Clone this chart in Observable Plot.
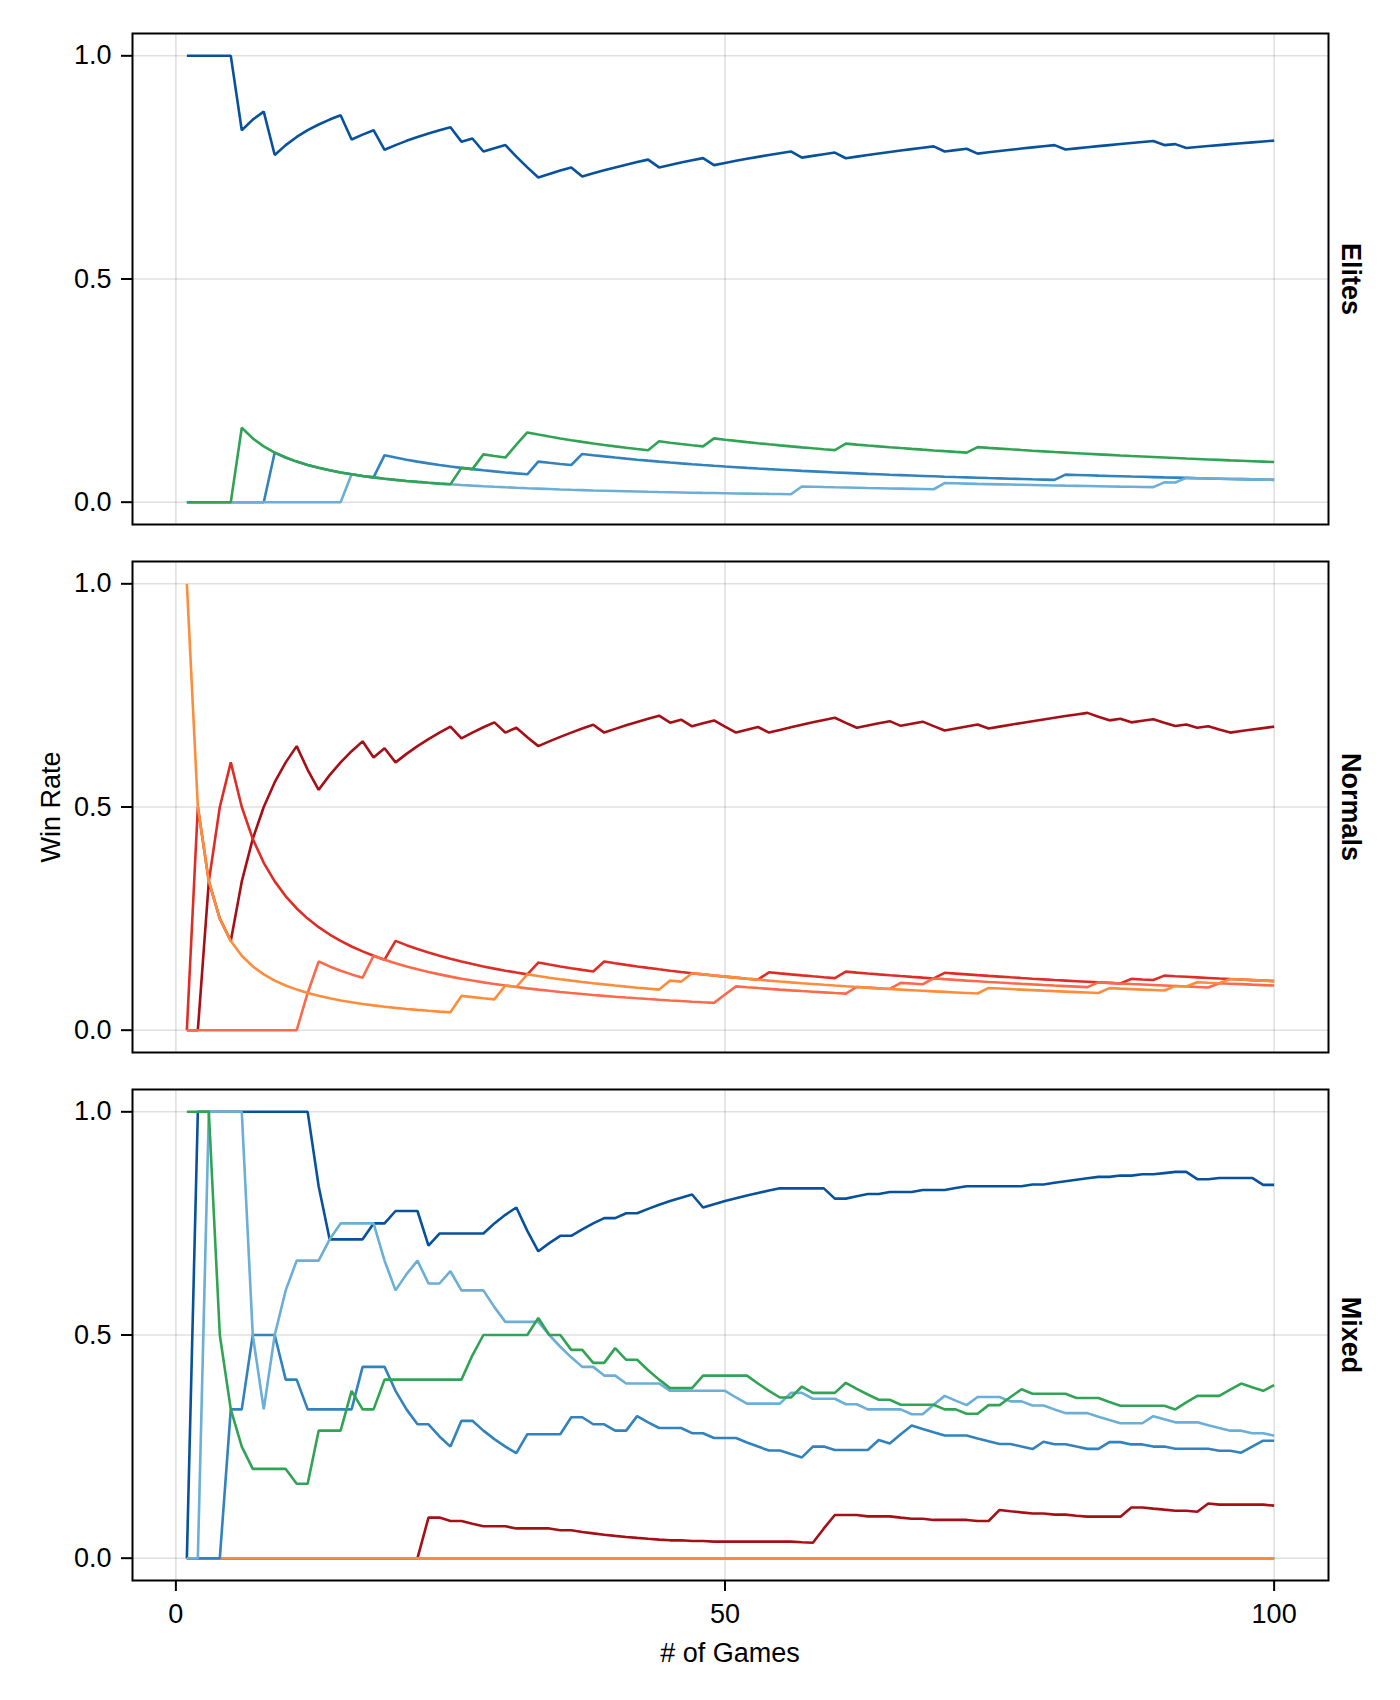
<!DOCTYPE html>
<html>
<head>
<meta charset="utf-8">
<script src="https://cdn.jsdelivr.net/npm/d3@7"></script>
<script src="https://cdn.jsdelivr.net/npm/@observablehq/plot@0.6"></script>
<style>
  html, body { margin: 0; padding: 0; background: #ffffff; }
  #chart svg { display: block; }
</style>
</head>
<body>
<div id="chart"></div>
<script>
// ---------- data ----------
const panels = ["Elites", "Normals", "Mixed"];

// agents, in drawing order, with their colours
const agentKeys   = ["DR", "R", "C", "O", "DB", "MB", "LB", "G"];
const agentColors = ["#a50f15", "#de2d26", "#fb6a4a", "#fd8d3c", "#08519c", "#3182bd", "#6baed6", "#31a354"];

const xTicks = [0, 50, 100];
const yTicks = [0, 0.5, 1];

// Elites: winner of each game (D = DB, M = MB, B = LB, G = G)
const elitesWinners = "DDDDDGDDMD DDDDDBDDMD DDDDDGDGDD GGMDDDMDDD DDDGDDDDGD DDDDDDBDDD GDDDDDDDDB DDGDDDDDDD MDDDDDDDDB DBDDDDDDDD";
const elitesCodes = {DB: "D", MB: "M", LB: "B", G: "G"};

// Normals: winner of each game (D = DR, R = R, C = C, O = O)
const normalsWinners = "ORDRRDDDDD DCCDDDDCDR DDDDDODDDO DORDDDDDRD DDDDODODDC CDDRDDDDDD RCDDDCDDCR DDDODDDDDD DDDCODRDDR ODODCODDDD";
const normalsCodes = {DR: "D", R: "R", C: "C", O: "O"};

// Mixed: per-agent result of each game (W = won, L = lost, . = did not play)
const mixedDB = ".W.W.W.W.. .WLL...W.W ..LW....WW WLLWW.WWW. W.WWWWWLWW WWWWW....L .WW.W..W.. WW.....W.W WWWW.W.W.W W.L.W...L.";
const mixedMB = "..LLW.W..L .L....W..L LL.LLW.LLL LW...W.L.L .WLL..L.L. .LLL.LLW.L ...WLWWLLL ..LLL.LLWL .LL.W.L.L. L...L.LWW.";
const mixedLB = "..W...LLWW W..WW...LL WWL.WL..LL ...LLLL.L. L...L..... LL...W.L.. L.L...L.WW LLW..L.L.L L..LLL..WL L..LLL.L.L";
const mixedG  = "W..LLLL... L.W..WL.W. ......WW.. ..WL.L.L.W L.LLL..W.. ..LLL.WL.. WLLL.L...L .L.W.WWL.. .L..LL.... LWW..WWLLW";
const mixedDR = "..L.L..L.L .L.L.L.L.L .LW.L.LL.. L...L.LLLL LLLLL.L.L. ......LLWW ..L..LL.L. ..L.WLLL.L .LL...W.LL L.LWL....L";
const mixedR  = "..L...L... ..L..L...L ....L..... L...L..... L..L....L. .L....L... L.....L..L ...L....L. ....L...L. .L....L...";
const mixedC  = ".L....L... L.....L..L ...L....L. ..L...L... ..L..L...L ....L..... L...L..... L..L....L. ....L...L. ..L..L....";
const mixedO  = "...L...L.. L...L....L ..L...L... .L....L..L ....L...L. ..L..L.... .L....L... ..L..L...L L....L.... ..L...L..L";
const mixedResults = {DR: mixedDR, R: mixedR, C: mixedC, O: mixedO, DB: mixedDB, MB: mixedMB, LB: mixedLB, G: mixedG};

// ---------- build rows: running win rate (wins / games played) ----------
const clean = s => s.replace(/\s+/g, "");
function addSeries(rows, panel, agent, results) {
  let wins = 0, played = 0;
  Array.from(clean(results)).forEach((ch, i) => {
    if (ch === "W") { wins++; played++; }
    else if (ch === "L") { played++; }
    rows.push({panel, agent, game: i + 1, rate: played ? wins / played : 0});
  });
}
const rows = [];
for (const agent of agentKeys) {
  if (elitesCodes[agent]) {
    const code = elitesCodes[agent];
    addSeries(rows, "Elites", agent, Array.from(clean(elitesWinners), c => c === code ? "W" : "L").join(""));
  }
}
for (const agent of agentKeys) {
  if (normalsCodes[agent]) {
    const code = normalsCodes[agent];
    addSeries(rows, "Normals", agent, Array.from(clean(normalsWinners), c => c === code ? "W" : "L").join(""));
  }
}
for (const agent of agentKeys) addSeries(rows, "Mixed", agent, mixedResults[agent]);

// ---------- chart ----------
const FONT = "'Liberation Sans', Arial, Helvetica, sans-serif";
const chart = Plot.plot({
  width: 1400,
  height: 1700,
  marginLeft: 132,
  marginRight: 72,
  marginTop: 32,
  marginBottom: 118,
  style: {fontFamily: FONT, fontSize: "27px", background: "#ffffff", color: "#000"},
  x: {domain: [-3.95, 104.95], label: null},
  y: {domain: [-0.05, 1.05], label: null},
  fy: {domain: panels, paddingInner: 0.0699, paddingOuter: 0, axis: null, label: null},
  color: {domain: agentKeys, range: agentColors},
  marks: [
    Plot.gridX(xTicks, {stroke: "#000", strokeOpacity: 0.12, strokeWidth: 1.6}),
    Plot.gridY(yTicks, {stroke: "#000", strokeOpacity: 0.12, strokeWidth: 1.6}),
    Plot.lineY(rows, {
      x: "game", y: "rate", z: "agent", stroke: "agent", fy: "panel",
      strokeWidth: 2.6, strokeLinejoin: "miter", strokeLinecap: "butt", curve: "linear"
    }),
    Plot.frame({stroke: "#000", strokeWidth: 2}),
    Plot.axisY(yTicks, {
      tickFormat: d3.format(".1f"), tickSize: 11, tickPadding: 10,
      strokeWidth: 2, label: null, fontSize: 27
    }),
    Plot.axisX(xTicks, {
      tickFormat: d3.format("d"), tickSize: 11, tickPadding: 12,
      strokeWidth: 2, label: null, fontSize: 27
    }),
    Plot.text(panels, {
      fy: d => d, text: d => d, frameAnchor: "right", dx: 22,
      rotate: 90, textAnchor: "middle", lineAnchor: "middle",
      fontWeight: "bold", fontSize: 27, fill: "#000"
    })
  ]
});
document.getElementById("chart").appendChild(chart);

// axis titles
const svg = d3.select(chart);
svg.append("text")
  .attr("x", 730).attr("y", 1662)
  .attr("text-anchor", "middle")
  .attr("font-family", FONT).attr("font-size", 27).attr("fill", "#000")
  .text("# of Games");
svg.append("text")
  .attr("transform", "translate(60,807) rotate(-90)")
  .attr("text-anchor", "middle")
  .attr("font-family", FONT).attr("font-size", 27).attr("fill", "#000")
  .text("Win Rate");
</script>
</body>
</html>
